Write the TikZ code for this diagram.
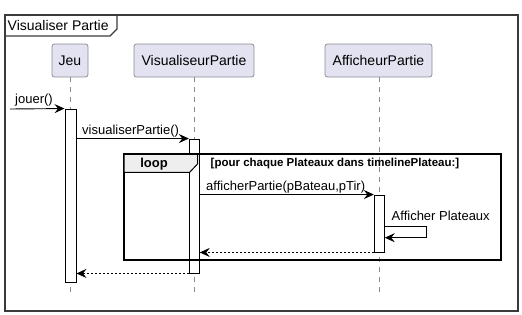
\documentclass[tikz,border=0pt]{standalone}
\usepackage{fontspec}
\setmainfont{Liberation Sans}
\usetikzlibrary{arrows.meta}

\definecolor{partfill}{HTML}{E2E2F0}
\definecolor{partline}{HTML}{8C8C98}
\definecolor{lifegray}{HTML}{8A8A8A}
\definecolor{tabfill}{HTML}{EEEEEE}
\definecolor{framecol}{HTML}{3A3A3A}

\tikzset{
  part/.style={draw=partline, fill=partfill, rounded corners=2.5pt, line width=0.8pt,
    minimum height=33pt, inner sep=0pt, font=\fontsize{14}{16}\selectfont},
  lifeline/.style={draw=lifegray, dash pattern=on 5pt off 5pt, line width=0.8pt},
  actbox/.style={draw=black, fill=white, line width=0.9pt, minimum width=10pt, inner sep=0pt},
  msg/.style={draw=black, line width=0.9pt, -{Stealth[length=10pt,width=9pt,inset=3.5pt]}},
  ret/.style={msg, dash pattern=on 2pt off 2pt},
  msglabel/.style={inner sep=0pt, anchor=base west, font=\fontsize{13}{15}\selectfont},
  guard/.style={inner sep=0pt, anchor=base west, font=\bfseries\fontsize{11.5}{13}\selectfont}
}

\begin{document}
\begin{tikzpicture}[x=1pt, y=-1pt]
  \useasboundingbox (0,0) rectangle (522,315);

  % outer frame with its title tab
  \draw[framecol, line width=1.1pt] (5,15) rectangle (518,311);
  \draw[framecol, line width=1.1pt] (5,36) -- (110,36) -- (117,29) -- (117,15);
  \node[inner sep=0pt, anchor=base west, font=\fontsize{14}{16}\selectfont] (title) at (7.5,31) {Visualiser Partie};

  % participants
  \node[part, minimum width=36pt]  (jeu) at (70,60.5)    {Jeu};
  \node[part, minimum width=120pt] (vp)  at (194,60.5)   {VisualiseurPartie};
  \node[part, minimum width=107pt] (ap)  at (378.5,60.5) {AfficheurPartie};

  % lifelines
  \coordinate (jeuEnd) at (70.5,292);
  \coordinate (vpEnd)  at (194.3,292);
  \coordinate (apEnd)  at (379.3,292);
  \draw[lifeline] (jeu.south -| jeuEnd) -- (jeuEnd);
  \draw[lifeline] (vp.south -| vpEnd) -- (vpEnd);
  \draw[lifeline] (ap.south -| apEnd) -- (apEnd);

  % activation bars
  \node[actbox, minimum width=11pt, minimum height=173pt] (jeuAct) at (70.5,195.5) {};
  \node[actbox, minimum height=134pt] (vpAct) at (194.3,206) {};
  \node[actbox, minimum height=57pt]  (apAct) at (379.3,223.5) {};

  % loop fragment
  \draw[black, line width=1.6pt] (124,154) rectangle (501,260);
  \draw[black, fill=tabfill, line width=1pt] (124,154) -- (197.5,154) -- (197.5,164) -- (189.5,172.5) -- (124,172.5) -- cycle;
  \draw[black, line width=1.6pt] (124,154) -- (197.5,154);
  \node[inner sep=0pt, anchor=base, font=\bfseries\fontsize{13}{15}\selectfont] (loopLbl) at (154,168) {loop};
  \node[guard] (guardLbl) at (210.5,166.5) {[pour chaque Plateaux dans timelinePlateau:]};

  % messages
  \coordinate (jouerStart) at (10,109);
  \draw[msg] (jouerStart) -- (jeuAct.north west);
  \node[msglabel] (jouerLbl) at (15,104) {jouer()};

  \draw[msg] (jeuAct.east |- vpAct.north) -- (vpAct.north west);
  \node[msglabel] (visLbl) at (82,135) {visualiserPartie()};

  \draw[msg] (vpAct.east |- apAct.north) -- (apAct.north west);
  \node[msglabel] (affLbl) at (206,191) {afficherPartie(pBateau,pTir)};

  % self call
  \coordinate (selfOut)  at (384.3,226);
  \coordinate (selfBack) at (384.3,237.7);
  \draw[msg] (apAct.east |- selfOut) -- (426.7,226) -- (426.7,237.7) -- (apAct.east |- selfBack);
  \node[msglabel] (selfLbl) at (391.5,221) {Afficher Plateaux};

  % returns
  \draw[ret] (apAct.south west) -- (vpAct.east |- apAct.south);
  \draw[ret] (vpAct.south west) -- (jeuAct.east |- vpAct.south);
\end{tikzpicture}
\end{document}
